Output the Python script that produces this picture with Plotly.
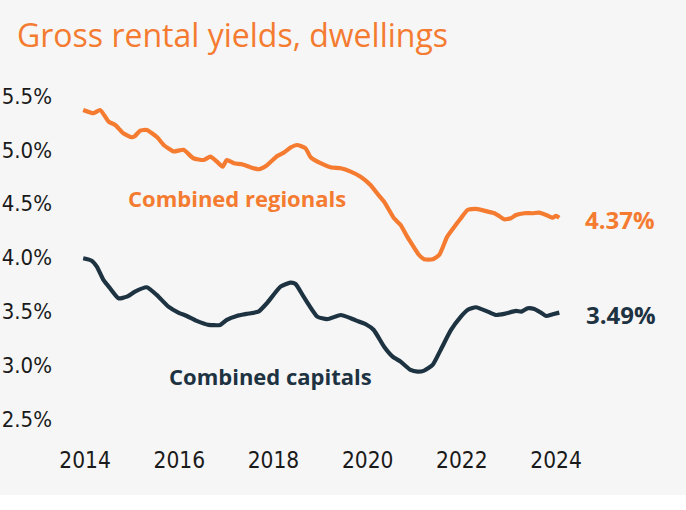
import plotly.graph_objects as go

# ---- data ----
reg_x = [2013.96, 2014.18, 2014.32, 2014.50, 2014.64, 2014.81, 2014.99, 2015.06, 2015.17, 2015.31,
         2015.53, 2015.67, 2015.88, 2016.09, 2016.30, 2016.52, 2016.66, 2016.80, 2016.92, 2017.01,
         2017.16, 2017.33, 2017.51, 2017.69, 2017.87, 2018.08, 2018.22, 2018.36, 2018.50, 2018.68,
         2018.79, 2019.00, 2019.21, 2019.43, 2019.64, 2019.85, 2020.06, 2020.20, 2020.35, 2020.56,
         2020.70, 2020.84, 2020.95, 2021.09, 2021.20, 2021.38, 2021.52, 2021.69, 2021.87, 2021.98,
         2022.12, 2022.30, 2022.55, 2022.69, 2022.79, 2022.90, 2023.04, 2023.15, 2023.33, 2023.50,
         2023.64, 2023.79, 2023.93, 2024.00, 2024.07]
reg_y = [5.370, 5.340, 5.370, 5.262, 5.231, 5.154, 5.117, 5.129, 5.178, 5.185,
         5.117, 5.045, 4.985, 5.000, 4.922, 4.906, 4.937, 4.891, 4.844, 4.906,
         4.876, 4.866, 4.839, 4.820, 4.860, 4.943, 4.974, 5.020, 5.045, 5.015,
         4.931, 4.876, 4.839, 4.829, 4.798, 4.751, 4.674, 4.597, 4.519, 4.365,
         4.303, 4.195, 4.118, 4.025, 3.985, 3.985, 4.025, 4.195, 4.303, 4.365,
         4.442, 4.452, 4.427, 4.412, 4.387, 4.356, 4.365, 4.396, 4.412, 4.412,
         4.417, 4.396, 4.371, 4.387, 4.370]

cap_x = [2013.96, 2014.14, 2014.25, 2014.39, 2014.53, 2014.71, 2014.89, 2015.06, 2015.31, 2015.52,
         2015.77, 2015.98, 2016.16, 2016.37, 2016.62, 2016.87, 2017.01, 2017.22, 2017.43, 2017.68,
         2017.86, 2018.15, 2018.36, 2018.47, 2018.64, 2018.93, 2019.14, 2019.43, 2019.64, 2019.81,
         2019.97, 2020.13, 2020.35, 2020.53, 2020.70, 2020.91, 2021.06, 2021.20, 2021.38, 2021.55,
         2021.77, 2021.98, 2022.12, 2022.30, 2022.55, 2022.72, 2022.90, 2023.15, 2023.26, 2023.40,
         2023.54, 2023.68, 2023.79, 2023.93, 2024.07]
cap_y = [3.994, 3.972, 3.917, 3.793, 3.716, 3.623, 3.638, 3.685, 3.725, 3.654,
         3.545, 3.490, 3.459, 3.413, 3.376, 3.376, 3.422, 3.459, 3.478, 3.499,
         3.577, 3.731, 3.768, 3.756, 3.638, 3.453, 3.429, 3.468, 3.438, 3.407,
         3.380, 3.329, 3.174, 3.082, 3.035, 2.958, 2.942, 2.952, 3.005, 3.144,
         3.329, 3.453, 3.515, 3.540, 3.499, 3.468, 3.478, 3.506, 3.499, 3.531,
         3.524, 3.490, 3.459, 3.475, 3.490]

x_ticks = [2014, 2016, 2018, 2020, 2022, 2024]
y_ticks = [2.5, 3.0, 3.5, 4.0, 4.5, 5.0, 5.5]
y_tick_text = ["2.5%", "3.0%", "3.5%", "4.0%", "4.5%", "5.0%", "5.5%"]

title_text = "Gross rental yields, dwellings"
reg_name = "Combined regionals"
cap_name = "Combined capitals"
reg_last = "4.37%"
cap_last = "3.49%"

ORANGE = "#F47B30"
NAVY = "#1E3342"
BG = "#F6F6F6"
TICK_FONT = "DejaVu Sans Condensed, sans-serif"
BOLD_FONT = "Open Sans, sans-serif"

fig = go.Figure()
fig.add_trace(go.Scatter(x=reg_x, y=reg_y, mode="lines",
                         line=dict(color=ORANGE, width=4.2, shape="spline", smoothing=0.5),
                         hoverinfo="skip"))
fig.add_trace(go.Scatter(x=cap_x, y=cap_y, mode="lines",
                         line=dict(color=NAVY, width=4.2, shape="spline", smoothing=0.5),
                         hoverinfo="skip"))

annotations = [
    dict(text=title_text, xref="paper", yref="paper", x=-0.0917, y=1.131,
         xanchor="left", yanchor="middle", showarrow=False,
         font=dict(family="Open Sans, sans-serif", size=32, color=ORANGE)),
    dict(text="<b>" + reg_name + "</b>", x=2017.23, y=4.554, xref="x", yref="y",
         showarrow=False, font=dict(family=BOLD_FONT, size=22, color=ORANGE)),
    dict(text="<b>" + cap_name + "</b>", x=2017.93, y=2.903, xref="x", yref="y",
         showarrow=False, font=dict(family=BOLD_FONT, size=22, color=NAVY)),
    dict(text="<b>" + reg_last + "</b>", x=2025.36, y=4.35, xref="x", yref="y",
         showarrow=False, font=dict(family=BOLD_FONT, size=24, color=ORANGE)),
    dict(text="<b>" + cap_last + "</b>", x=2025.38, y=3.47, xref="x", yref="y",
         showarrow=False, font=dict(family=BOLD_FONT, size=24, color=NAVY)),
]

fig.update_layout(
    width=686, height=510,
    margin=dict(l=70, r=16, t=80, b=80, autoexpand=False),
    paper_bgcolor="white", plot_bgcolor=BG,
    showlegend=False,
    hovermode=False,
    annotations=annotations,
    shapes=[dict(type="rect", xref="paper", yref="paper",
                 x0=-0.12, x1=1.03, y0=-0.1857, y1=1.23,
                 fillcolor=BG, line=dict(width=0), layer="below")],
    xaxis=dict(range=[2013.68, 2026.42], tickvals=x_ticks, ticktext=[str(t) for t in x_ticks],
               showgrid=False, zeroline=False, showline=False, ticks="", automargin=False,
               tickfont=dict(family=TICK_FONT, size=22.5, color="#1a1a1a"),
               ticklabelstandoff=14),
    yaxis=dict(range=[2.401, 5.648], tickvals=y_ticks, ticktext=y_tick_text,
               showgrid=False, zeroline=False, showline=False, ticks="", automargin=False,
               tickfont=dict(family=TICK_FONT, size=22, color="#1a1a1a"),
               ticklabelstandoff=17),
)

fig.write_html("out.html", config={"displayModeBar": False},
               post_script="document.body.style.margin='0';")
